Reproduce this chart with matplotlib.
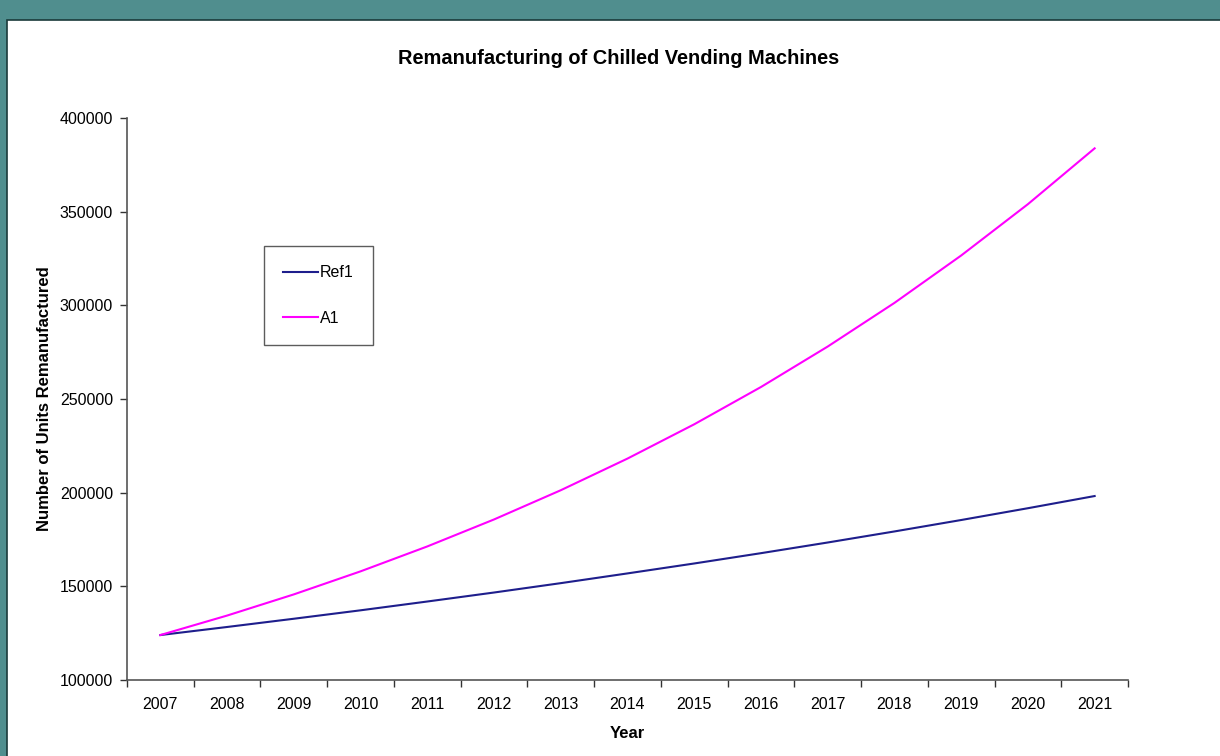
import matplotlib
matplotlib.use("Agg")
import matplotlib.pyplot as plt
from matplotlib.patches import Rectangle

years = [str(y) for y in range(2007, 2022)]
ref1 = [124000, 128300, 132700, 137200, 141900, 146700, 151700, 156900,
        162200, 167700, 173400, 179300, 185400, 191700, 198200]
a1 = [124000, 134400, 145700, 158000, 171300, 185700, 201300, 218200,
      236500, 256400, 278000, 301300, 326600, 354000, 383800]

plt.rcParams['font.family'] = ['Liberation Sans', 'DejaVu Sans']

W, H = 1220, 756
fig = plt.figure(figsize=(W / 100, H / 100), dpi=100)
fig.patch.set_facecolor('#508E8E')
bg = Rectangle((7 / W, -0.01), 1, 1.01 - 20 / H, transform=fig.transFigure,
               facecolor='white', edgecolor='#1a3a3a', linewidth=1.2, zorder=-10)
fig.add_artist(bg)

ax = fig.add_axes([127 / W, 1 - 680 / H, (1128 - 127) / W, (680 - 118) / H])
ax.set_zorder(5)
ax.set_facecolor('none')
x = list(range(len(years)))
ax.plot(x, ref1, color='#1E1E8C', lw=1.5, label='Ref1')
ax.plot(x, a1, color='#FF00FF', lw=1.5, label='A1')

ax.set_xlim(-0.5, len(years) - 0.5)
ax.set_ylim(100000, 400000)
ax.set_yticks(range(100000, 400001, 50000))
ax.set_yticklabels([str(v) for v in range(100000, 400001, 50000)])
ax.set_xticks([i - 0.5 for i in range(len(years) + 1)])
ax.set_xticklabels([])
ax.set_xticks(x, minor=True)
ax.set_xticklabels(years, minor=True)
ax.tick_params(axis='x', which='major', direction='out', length=5, width=1, color='#333333')
ax.tick_params(axis='x', which='minor', length=0, pad=12, labelsize=11.5)
ax.tick_params(axis='y', direction='out', length=5, width=1, color='#333333', pad=5, labelsize=11.5)
for s in ['top', 'right']:
    ax.spines[s].set_visible(False)
for s in ['left', 'bottom']:
    ax.spines[s].set_color('#555555')
    ax.spines[s].set_linewidth(1.2)

ax.set_xlabel('Year', fontsize=12, fontweight='bold', labelpad=10)
ax.set_ylabel('Number of Units Remanufactured', fontsize=12, fontweight='bold', labelpad=5.5)
fig.text(619 / W, 1 - 59 / H, 'Remanufacturing of Chilled Vending Machines',
         ha='center', va='center', fontsize=14.4, fontweight='bold', zorder=6)

leg = ax.legend(loc='upper left', bbox_to_anchor=((264 - 127) / (1128 - 127), (680 - 246) / (680 - 118)),
                frameon=True, fancybox=False, fontsize=11.5, borderpad=1.2,
                labelspacing=1.9, handlelength=2.2, handletextpad=0.1, borderaxespad=0)
leg.get_frame().set_edgecolor('#333333')
leg.get_frame().set_linewidth(1.0)

fig.savefig('out.png', dpi=100, facecolor=fig.get_facecolor())
